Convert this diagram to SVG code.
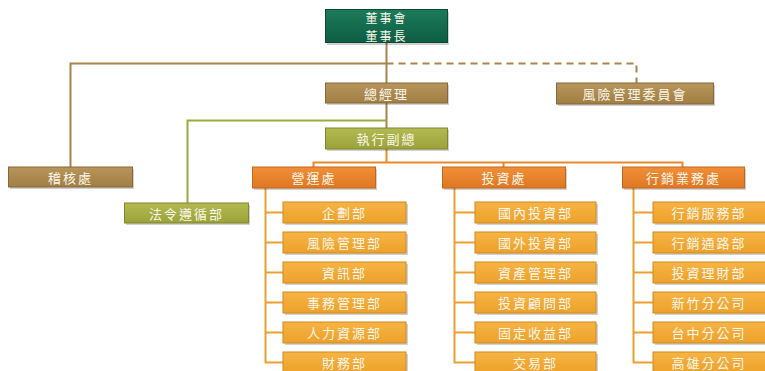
<svg xmlns="http://www.w3.org/2000/svg" width="765" height="371" viewBox="0 0 765 371">
<defs>
<linearGradient id="gGreen" x1="0" y1="0" x2="0" y2="1"><stop offset="0" stop-color="#1c7a5a"/><stop offset="1" stop-color="#0d5e43"/></linearGradient>
<linearGradient id="gBrown" x1="0" y1="0" x2="0" y2="1"><stop offset="0" stop-color="#b8955a"/><stop offset="1" stop-color="#a07e44"/></linearGradient>
<linearGradient id="gOlive" x1="0" y1="0" x2="0" y2="1"><stop offset="0" stop-color="#b3ba52"/><stop offset="1" stop-color="#9aa238"/></linearGradient>
<linearGradient id="gOrange" x1="0" y1="0" x2="0" y2="1"><stop offset="0" stop-color="#f08f38"/><stop offset="1" stop-color="#e07722"/></linearGradient>
<linearGradient id="gGold" x1="0" y1="0" x2="0" y2="1"><stop offset="0" stop-color="#f6b445"/><stop offset="1" stop-color="#eda12a"/></linearGradient>
</defs>
<style>
.shadow{fill:#000;opacity:0.18}
.green{fill:url(#gGreen);stroke:#0a4a35;stroke-width:1}
.brown{fill:url(#gBrown);stroke:#86683a;stroke-width:1}
.olive{fill:url(#gOlive);stroke:#7f862c;stroke-width:1}
.orange{fill:url(#gOrange);stroke:#c2661c;stroke-width:1}
.gold{fill:url(#gGold);stroke:#d08a1e;stroke-width:1}
text{font-family:"Noto Sans CJK TC","Noto Sans CJK SC",sans-serif;font-size:13px;fill:#fbf6ea;text-anchor:middle;dominant-baseline:central;letter-spacing:2px}
.top{font-size:12px}
.lb{stroke:#a8834a;stroke-width:2;fill:none}
.lg{stroke:#9aab3c;stroke-width:2;fill:none}
.lo{stroke:#e8892c;stroke-width:2;fill:none}
.ly{stroke:#eba030;stroke-width:2;fill:none}
</style>
<g id="connectors">
<path class="lb" d="M386.5 43 V83"/>
<path class="lb" d="M386.5 63.5 H70.5 V167"/>
<path class="lb" d="M386.5 63.5 H636.5 V83" stroke-dasharray="7,5"/>
<path class="lb" d="M386.5 103 V128"/>
<path class="lg" d="M386.5 120.5 H187.5 V203"/>
<path class="lo" d="M386.5 149 V162.5"/>
<path class="lo" d="M313.5 167 V162.5 H682.5 V167"/>
<path class="lo" d="M503.5 162.5 V167"/>
<path class="ly" d="M265.5 188 V362.5 H283 M265.5 212.5 H283 M265.5 242.5 H283 M265.5 272.5 H283 M265.5 302.5 H283 M265.5 332.5 H283"/>
<path class="ly" d="M454.5 188 V362.5 H475 M454.5 212.5 H475 M454.5 242.5 H475 M454.5 272.5 H475 M454.5 302.5 H475 M454.5 332.5 H475"/>
<path class="ly" d="M633.5 188 V362.5 H653 M633.5 212.5 H653 M633.5 242.5 H653 M633.5 272.5 H653 M633.5 302.5 H653 M633.5 332.5 H653"/>
</g>
<g id="chairman"><rect class="shadow" x="327" y="12" width="122" height="33"/><rect class="green" x="325.5" y="9.5" width="122" height="33"/><text class="top" x="386.5" y="17">董事會</text><text class="top" x="386.5" y="35">董事長</text></g>
<g id="gm"><rect class="shadow" x="327" y="85" width="122" height="20"/><rect class="brown" x="325.5" y="83" width="122" height="20"/><text x="386.5" y="93">總經理</text></g>
<g id="risk-committee"><rect class="shadow" x="558" y="85" width="157" height="21"/><rect class="brown" x="556.5" y="83" width="157" height="21"/><text x="635" y="93.5">風險管理委員會</text></g>
<g id="audit"><rect class="shadow" x="10" y="169" width="124" height="20"/><rect class="brown" x="8.5" y="167" width="124" height="20"/><text x="70.5" y="177">稽核處</text></g>
<g id="evp"><rect class="shadow" x="327" y="130" width="122" height="21"/><rect class="olive" x="325.5" y="128" width="122" height="21"/><text x="386.5" y="138.5">執行副總</text></g>
<g id="compliance"><rect class="shadow" x="126" y="205" width="124" height="20"/><rect class="olive" x="124.5" y="203" width="124" height="20"/><text x="186.5" y="213">法令遵循部</text></g>
<g id="ops"><rect class="shadow" x="254" y="169" width="123" height="21"/><rect class="orange" x="252.5" y="167" width="123" height="21"/><text x="314" y="177.5">營運處</text></g>
<g id="inv"><rect class="shadow" x="444" y="169" width="123" height="21"/><rect class="orange" x="442.5" y="167" width="123" height="21"/><text x="504" y="177.5">投資處</text></g>
<g id="mkt"><rect class="shadow" x="624" y="169" width="122" height="21"/><rect class="orange" x="622.5" y="167" width="122" height="21"/><text x="683.5" y="177.5">行銷業務處</text></g>
<g id="o1"><rect class="shadow" x="285" y="204" width="123" height="21"/><rect class="gold" x="283" y="202" width="123" height="21"/><text x="344.5" y="212.5">企劃部</text></g>
<g id="o2"><rect class="shadow" x="285" y="234" width="123" height="21"/><rect class="gold" x="283" y="232" width="123" height="21"/><text x="344.5" y="242.5">風險管理部</text></g>
<g id="o3"><rect class="shadow" x="285" y="264" width="123" height="21"/><rect class="gold" x="283" y="262" width="123" height="21"/><text x="344.5" y="272.5">資訊部</text></g>
<g id="o4"><rect class="shadow" x="285" y="294" width="123" height="21"/><rect class="gold" x="283" y="292" width="123" height="21"/><text x="344.5" y="302.5">事務管理部</text></g>
<g id="o5"><rect class="shadow" x="285" y="324" width="123" height="21"/><rect class="gold" x="283" y="322" width="123" height="21"/><text x="344.5" y="332.5">人力資源部</text></g>
<g id="o6"><rect class="shadow" x="285" y="354" width="123" height="21"/><rect class="gold" x="283" y="352" width="123" height="21"/><text x="344.5" y="362.5">財務部</text></g>
<g id="i1"><rect class="shadow" x="477" y="204" width="121" height="21"/><rect class="gold" x="475" y="202" width="121" height="21"/><text x="535.5" y="212.5">國內投資部</text></g>
<g id="i2"><rect class="shadow" x="477" y="234" width="121" height="21"/><rect class="gold" x="475" y="232" width="121" height="21"/><text x="535.5" y="242.5">國外投資部</text></g>
<g id="i3"><rect class="shadow" x="477" y="264" width="121" height="21"/><rect class="gold" x="475" y="262" width="121" height="21"/><text x="535.5" y="272.5">資產管理部</text></g>
<g id="i4"><rect class="shadow" x="477" y="294" width="121" height="21"/><rect class="gold" x="475" y="292" width="121" height="21"/><text x="535.5" y="302.5">投資顧問部</text></g>
<g id="i5"><rect class="shadow" x="477" y="324" width="121" height="21"/><rect class="gold" x="475" y="322" width="121" height="21"/><text x="535.5" y="332.5">固定收益部</text></g>
<g id="i6"><rect class="shadow" x="477" y="354" width="121" height="21"/><rect class="gold" x="475" y="352" width="121" height="21"/><text x="535.5" y="362.5">交易部</text></g>
<g id="m1"><rect class="shadow" x="655" y="204" width="120" height="21"/><rect class="gold" x="653" y="202" width="120" height="21"/><text x="709" y="212.5">行銷服務部</text></g>
<g id="m2"><rect class="shadow" x="655" y="234" width="120" height="21"/><rect class="gold" x="653" y="232" width="120" height="21"/><text x="709" y="242.5">行銷通路部</text></g>
<g id="m3"><rect class="shadow" x="655" y="264" width="120" height="21"/><rect class="gold" x="653" y="262" width="120" height="21"/><text x="709" y="272.5">投資理財部</text></g>
<g id="m4"><rect class="shadow" x="655" y="294" width="120" height="21"/><rect class="gold" x="653" y="292" width="120" height="21"/><text x="709" y="302.5">新竹分公司</text></g>
<g id="m5"><rect class="shadow" x="655" y="324" width="120" height="21"/><rect class="gold" x="653" y="322" width="120" height="21"/><text x="709" y="332.5">台中分公司</text></g>
<g id="m6"><rect class="shadow" x="655" y="354" width="120" height="21"/><rect class="gold" x="653" y="352" width="120" height="21"/><text x="709" y="362.5">高雄分公司</text></g>
</svg>
